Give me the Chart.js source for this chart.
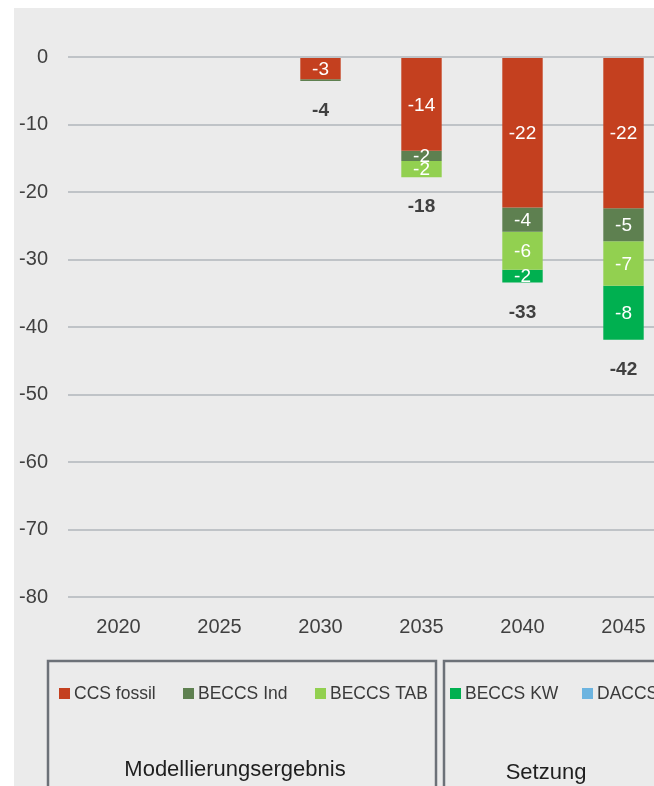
<!DOCTYPE html>
<html>
<head>
<meta charset="utf-8">
<script src="https://cdn.jsdelivr.net/npm/chart.js@4"></script>
<style>
  html, body { margin: 0; padding: 0; background: #fff; overflow: hidden; }
  #wrap { position: absolute; left: 14px; top: 8px; width: 700px; height: 800px; background: #ebebeb; }
</style>
</head>
<body>
<div id="wrap"><canvas id="ccs" width="660" height="778"></canvas></div>
<script>
// Jahre
const years = ['2020', '2025', '2030', '2035', '2040', '2045'];
// Mt CO2 (negativ = Abscheidung)
const ccsFossil = [null, null, -3.3, -13.9, -22.3, -22.4];
const beccsInd  = [null, null, -0.25, -1.5, -3.6, -4.9];
const beccsTab  = [null, null, null, -2.4, -5.6, -6.6];
const beccsKw   = [null, null, null, null, -1.9, -8.0];
const daccs     = [null, null, null, null, null, null];
const yTicks = [0, -10, -20, -30, -40, -50, -60, -70, -80];

const series = [
  { label: 'CCS fossil', data: ccsFossil, color: '#c4401f' },
  { label: 'BECCS Ind', data: beccsInd, color: '#5e8050' },
  { label: 'BECCS TAB', data: beccsTab, color: '#92d050' },
  { label: 'BECCS KW', data: beccsKw, color: '#00b050' },
  { label: 'DACCS', data: daccs, color: '#6cb4e0' }
];

const FONT = "'Liberation Sans', Arial, sans-serif";

// Werte in den Balken + Summen darunter
const valueLabels = {
  id: 'valueLabels',
  afterDatasetsDraw(chart) {
    const ctx = chart.ctx;
    ctx.save();
    ctx.textAlign = 'center';
    ctx.textBaseline = 'middle';
    ctx.font = '19px ' + FONT;
    ctx.fillStyle = '#ffffff';
    chart.data.datasets.forEach((ds, i) => {
      const meta = chart.getDatasetMeta(i);
      meta.data.forEach((bar, j) => {
        const v = ds.data[j];
        if (v == null || Math.abs(v) < 1) return;
        ctx.fillText(v.toFixed(0), bar.x, (bar.y + bar.base) / 2 + 1);
      });
    });
    // Summen
    ctx.font = 'bold 19px ' + FONT;
    ctx.fillStyle = '#404040';
    const yScale = chart.scales.y;
    years.forEach((y, j) => {
      let sum = 0, has = false;
      series.forEach(s => { if (s.data[j] != null) { sum += s.data[j]; has = true; } });
      if (!has) return;
      const x = chart.getDatasetMeta(0).data[j].x;
      ctx.fillText(sum.toFixed(0), x, yScale.getPixelForValue(sum) + 30);
    });
    ctx.restore();
  }
};

// Legende in zwei Gruppen mit Rahmen
const groupLegend = {
  id: 'groupLegend',
  afterDraw(chart) {
    const ctx = chart.ctx;
    ctx.save();
    ctx.strokeStyle = '#6c7178';
    ctx.lineWidth = 2.5;
    ctx.strokeRect(34, 653, 388, 200);
    ctx.strokeRect(430, 653, 400, 200);
    const items = [
      { s: series[0], x: 45 },
      { s: series[1], x: 169 },
      { s: series[2], x: 301 },
      { s: series[3], x: 436 },
      { s: series[4], x: 568 }
    ];
    ctx.font = '17.5px ' + FONT;
    ctx.textBaseline = 'middle';
    ctx.textAlign = 'left';
    items.forEach(it => {
      ctx.fillStyle = it.s.color;
      ctx.fillRect(it.x, 680, 11, 11);
      ctx.fillStyle = '#3a3a3a';
      ctx.fillText(it.s.label, it.x + 15, 686);
    });
    ctx.font = '22px ' + FONT;
    ctx.fillStyle = '#1f1f1f';
    ctx.textAlign = 'center';
    ctx.fillText('Modellierungsergebnis', 221, 762);
    ctx.fillText('Setzung', 532, 765);
    ctx.restore();
  }
};

new Chart(document.getElementById('ccs').getContext('2d'), {
  type: 'bar',
  data: {
    labels: years,
    datasets: series.map(s => ({
      label: s.label,
      data: s.data,
      backgroundColor: s.color,
      borderWidth: 0,
      categoryPercentage: 1,
      barPercentage: 0.4
    }))
  },
  options: {
    responsive: false,
    animation: false,
    layout: { padding: { top: 49, left: 0, right: 0, bottom: 119 } },
    plugins: { legend: { display: false }, tooltip: { enabled: false } },
    scales: {
      x: {
        stacked: true,
        grid: { display: false },
        border: { display: false },
        ticks: { color: '#404040', font: { family: FONT, size: 20 }, padding: 10 },
        afterFit(scale) { scale.height = 70; }
      },
      y: {
        stacked: true,
        min: -80,
        max: 0,
        afterBuildTicks(scale) { scale.ticks = yTicks.map(v => ({ value: v })); },
        grid: { color: '#bfc3c7', lineWidth: 2, drawTicks: false },
        border: { display: false },
        ticks: { color: '#404040', font: { family: FONT, size: 20 }, padding: 20 },
        afterFit(scale) { scale.width = 54; }
      }
    }
  },
  plugins: [valueLabels, groupLegend]
});
</script>
</body>
</html>
